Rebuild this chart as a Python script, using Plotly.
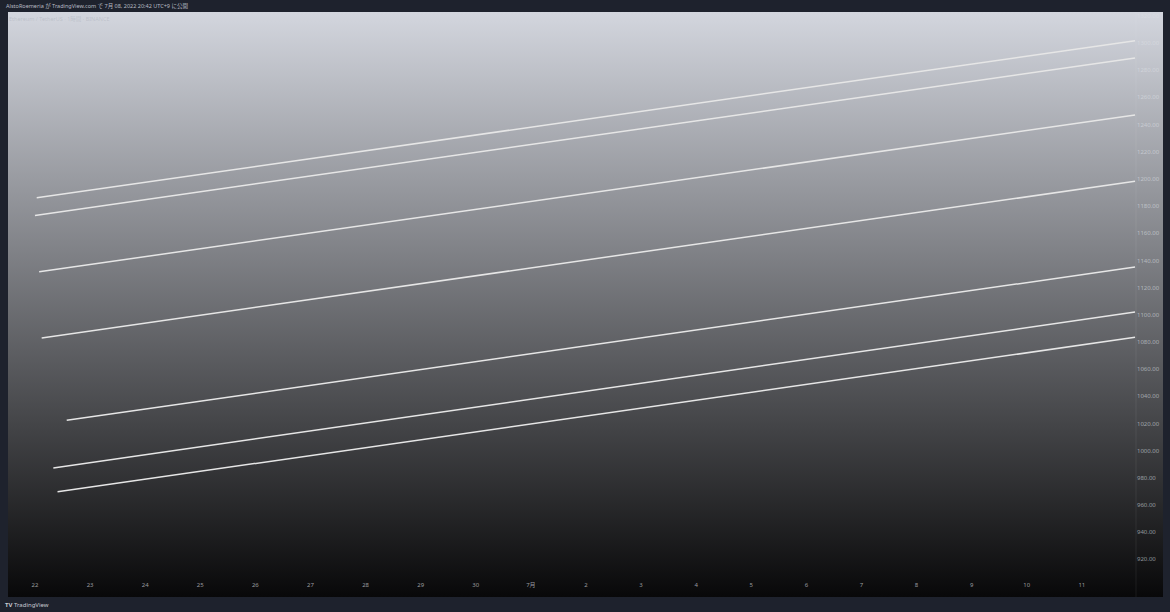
import base64
import plotly.graph_objects as go

# trend lines (ETH/USDT, drawn on TradingView)
line_start = ["2022-06-22 00:45", "2022-06-22 00:00", "2022-06-22 01:50", "2022-06-22 02:55",
              "2022-06-22 13:50", "2022-06-22 08:00", "2022-06-22 09:50"]
line_end = ["2022-07-11 23:10"] * 7
start_price = [1186.1, 1173.1, 1131.6, 1082.9, 1022.3, 987.2, 969.7]
end_price = [1301.6, 1288.9, 1247.0, 1198.2, 1135.1, 1102.0, 1083.4]

tick_dates = ["2022-06-%02d" % d for d in range(22, 31)] + ["2022-07-%02d" % d for d in range(1, 12)]
tick_text = [str(d) for d in range(22, 31)] + ["7月"] + [str(d) for d in range(2, 12)]
price_ticks = list(range(920, 1321, 20))

fig = go.Figure()
for xs, xe, ys, ye in zip(line_start, line_end, start_price, end_price):
    fig.add_trace(go.Scatter(x=[xs, xe], y=[ys, ye], mode='lines',
                             line=dict(color='#e6e6e6', width=1.5), hoverinfo='skip'))

# gradient background as an svg image (light grey top -> near black bottom)
svg = ('<svg xmlns="http://www.w3.org/2000/svg" width="10" height="100" viewBox="0 0 10 100" '
       'preserveAspectRatio="none"><defs><linearGradient id="g" x1="0" y1="0" x2="0" y2="1">'
       '<stop offset="0" stop-color="#d3d6de"/><stop offset="1" stop-color="#080809"/>'
       '</linearGradient></defs><rect width="10" height="100" fill="url(#g)"/></svg>')
bg_src = "data:image/svg+xml;base64," + base64.b64encode(svg.encode()).decode()
y_bot = -17 / 568

font = "Noto Sans, Noto Sans CJK JP, sans-serif"
fig.update_layout(
    width=1170, height=612,
    margin=dict(l=8, r=34, t=12, b=32),
    paper_bgcolor='#1e222d',
    plot_bgcolor='rgba(0,0,0,0)',
    showlegend=False,
    images=[dict(source=bg_src, xref='paper', yref='paper', x=0, y=1,
                 sizex=1155 / 1128, sizey=1 - y_bot, xanchor='left', yanchor='top',
                 sizing='stretch', layer='below')],
    shapes=[dict(type='line', xref='paper', yref='paper', x0=1, x1=1, y0=y_bot, y1=1,
                 line=dict(color='rgba(255,255,255,0.07)', width=1), layer='below')],
    font=dict(family=font, size=6, color='rgba(222,224,230,0.6)'),
    xaxis=dict(range=["2022-06-21 12:15", "2022-07-11 23:35"], tickvals=tick_dates,
               ticktext=tick_text, showgrid=False, zeroline=False, showline=False,
               ticks='', tickfont=dict(size=6, color='rgba(200,202,208,0.75)')),
    yaxis=dict(range=[904.8, 1322.8], side='right', tickvals=price_ticks,
               tickformat='.2f', showgrid=False, zeroline=False, showline=False,
               ticks='', tickfont=dict(size=6)),
    annotations=[
        dict(text="AlstoRoemeria が TradingView.com で 7月 08, 2022 20:42 UTC+9 に公開",
             xref='paper', yref='paper', x=-4 / 1128, y=1 + 6 / 568, xanchor='left',
             yanchor='middle', showarrow=False, font=dict(size=5.5, color='#b8bbc3')),
        dict(text="Ethereum / TetherUS · 1時間 · BINANCE",
             xref='paper', yref='paper', x=-1 / 1128, y=1 - 7 / 568, xanchor='left',
             yanchor='middle', showarrow=False,
             font=dict(size=5.5, color='rgba(150,155,168,0.35)')),
        dict(text="<b>TV</b> TradingView",
             xref='paper', yref='paper', x=-5 / 1128, y=-25 / 568, xanchor='left',
             yanchor='middle', showarrow=False, font=dict(size=6, color='#c8cbd3')),
    ],
)

fig.write_html("out.html", config={'displayModeBar': False},
               post_script="document.body.style.margin='0';")
